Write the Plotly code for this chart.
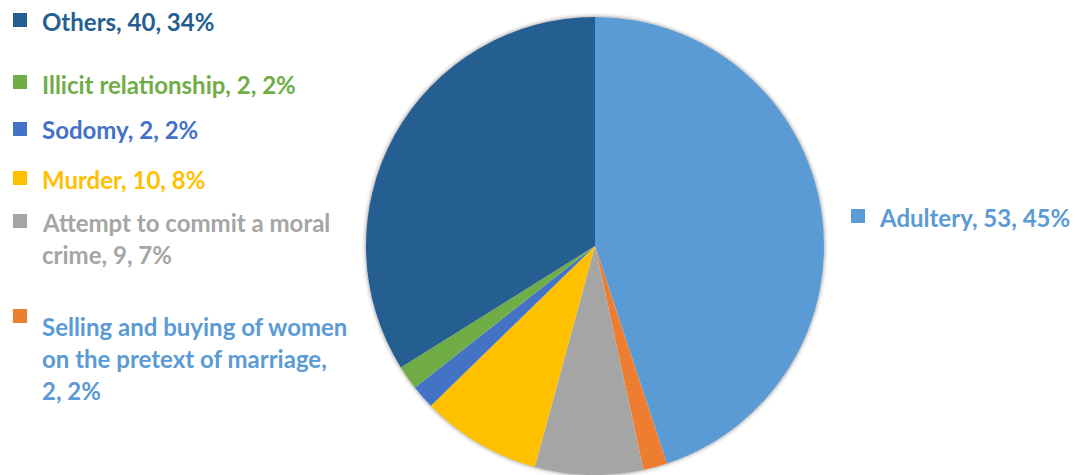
import plotly.graph_objects as go

W, H = 1075, 475

categories = ["Adultery", "Selling and buying of women on the pretext of marriage",
              "Attempt to commit a moral crime", "Murder", "Sodomy",
              "Illicit relationship", "Others"]
values = [53, 2, 9, 10, 2, 2, 40]
percents = [45, 2, 7, 8, 2, 2, 34]
slice_colors = ["#5B9BD5", "#ED7D31", "#A5A5A5", "#FFC000", "#4472C4", "#70AD47", "#255E91"]
text_colors = ["#5B9BD5", "#5B9BD5", "#A5A5A5", "#FFC000", "#4472C4", "#70AD47", "#255E91"]

# label text lines (wrapped as in the reference)
label_lines = [
    [f"{categories[0]}, {values[0]}, {percents[0]}%"],
    ["Selling and buying of women", "on the pretext of marriage,", f"{values[1]}, {percents[1]}%"],
    ["Attempt to commit a moral", f"crime, {values[2]}, {percents[2]}%"],
    [f"{categories[3]}, {values[3]}, {percents[3]}%"],
    [f"{categories[4]}, {values[4]}, {percents[4]}%"],
    [f"{categories[5]}, {values[5]}, {percents[5]}%"],
    [f"{categories[6]}, {values[6]}, {percents[6]}%"],
]
# layout positions (pixels): square top-left, text x, first line center y
label_pos = [
    (851, 209, 877, 217),
    (13, 309, 40, 326),
    (13, 214, 40, 222),
    (13, 171, 40, 179),
    (13, 122, 40, 130),
    (13, 75, 40, 84),
    (13, 13, 40, 21),
]
line_gap = 32
sq = 14
font_size = 24
font_family = "Lato"

cx, cy, r = 595, 246, 229

fig = go.Figure(go.Pie(
    labels=categories,
    values=values,
    sort=False,
    direction="clockwise",
    rotation=0,
    marker=dict(colors=slice_colors, line=dict(width=0)),
    textinfo="none",
    hoverinfo="label+value+percent",
    showlegend=False,
    domain=dict(x=[(cx - r) / W, (cx + r) / W], y=[1 - (cy + r) / H, 1 - (cy - r) / H]),
))

shapes = []
annotations = []
# soft shadow ring behind the pie
for w, a in [(8, 0.04), (5, 0.06), (2.5, 0.10)]:
    shapes.append(dict(type="circle", xref="paper", yref="paper",
                       x0=(cx - r) / W, x1=(cx + r) / W,
                       y0=1 - (cy + r) / H, y1=1 - (cy - r) / H,
                       line=dict(color=f"rgba(0,0,0,{a})", width=w), layer="below"))

for i, lines in enumerate(label_lines):
    sx, sy, tx, ty = label_pos[i]
    shapes.append(dict(type="rect", xref="paper", yref="paper",
                       x0=sx / W, x1=(sx + sq) / W, y0=1 - (sy + sq) / H, y1=1 - sy / H,
                       fillcolor=slice_colors[i], line=dict(width=0)))
    for j, line in enumerate(lines):
        annotations.append(dict(
            x=tx / W, y=1 - (ty + j * line_gap) / H, xref="paper", yref="paper",
            xanchor="left", yanchor="middle", showarrow=False,
            text=f"<b>{line}</b>",
            font=dict(family=font_family, size=font_size, color=text_colors[i]),
        ))

fig.update_layout(
    width=W, height=H,
    margin=dict(l=0, r=0, t=0, b=0),
    paper_bgcolor="white", plot_bgcolor="white",
    shapes=shapes, annotations=annotations,
)

fig.write_html("out.html")
